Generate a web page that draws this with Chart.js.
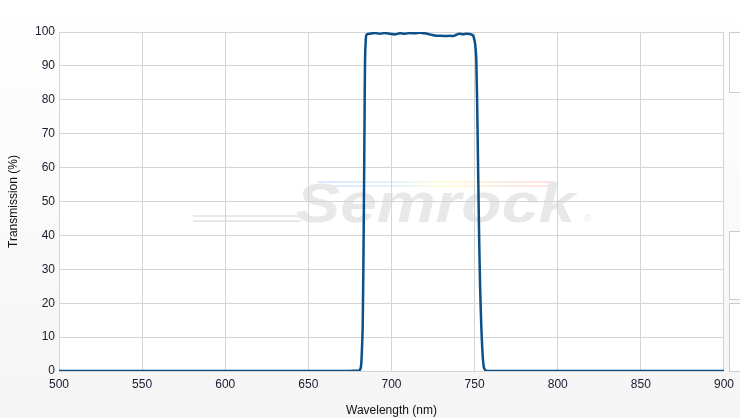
<!DOCTYPE html>
<html>
<head>
<meta charset="utf-8">
<script src="https://cdn.jsdelivr.net/npm/chart.js@4/dist/chart.umd.min.js"></script>
<style>
    html, body { margin: 0; padding: 0; }
    body {
        width: 740px; height: 418px; overflow: hidden; position: relative;
        background: linear-gradient(to bottom, #ffffff 0%, #f5f5f5 100%);
        font-family: "Liberation Sans", Arial, sans-serif;
    }
    #wrap { position: absolute; left: 0; top: 0; width: 740px; height: 418px; }
    .side { position: absolute; left: 729px; width: 14px; border: 1px solid #cccccc; background: #ffffff; }
</style>
</head>
<body>
<div id="wrap"><canvas id="chart"></canvas></div>
<div class="side" style="top:32px;height:59px;"></div>
<div class="side" style="top:231px;height:67px;"></div>
<div class="side" style="top:303px;height:67px;"></div>
<script>
// Filter transmission spectrum
const wavelengths = [500, 550, 600, 650, 670, 678, 680, 681, 681.7, 682.2, 682.7, 683.3, 683.8, 684.1, 684.5, 685,
    687, 690, 693, 696, 699, 702, 705, 708, 711, 714, 717, 720, 723, 726, 729, 732, 735, 737, 739, 741, 743, 745, 747,
    749, 749.6, 750.3, 751, 751.8, 752.6, 753.3, 754, 754.8, 755.5, 756.3, 757.5, 760, 800, 850, 900];
const transmission = [0, 0, 0, 0, 0, 0.05, 0.1, 0.3, 1.5, 6, 13.5, 43, 75, 92, 97.5, 99.2,
    99.5, 99.7, 99.5, 99.7, 99.5, 99.3, 99.6, 99.5, 99.7, 99.6, 99.8, 99.6, 99.3, 99.0, 98.9, 98.8, 98.9, 98.8, 99.2, 99.5, 99.3, 99.5, 99.4,
    99.0, 98.2, 96.5, 92, 70, 43, 25, 13.5, 5, 1.2, 0.3, 0.05, 0, 0, 0, 0];

const xTicks = [500, 550, 600, 650, 700, 750, 800, 850, 900];
const yTicks = [0, 10, 20, 30, 40, 50, 60, 70, 80, 90, 100];

const lineColor = '#0b5089';
const gridColor = '#d4d4d4';
const tickColor = '#1a1a2e';

// white plot area + faint logo watermark behind the grid
const backdrop = {
    id: 'backdrop',
    beforeDraw(chart) {
        const { ctx, chartArea: a } = chart;
        ctx.save();
        ctx.fillStyle = '#ffffff';
        ctx.fillRect(a.left, a.top, a.right - a.left, a.bottom - a.top);

        // rainbow stripes
        const g = ctx.createLinearGradient(310, 0, 555, 0);
        g.addColorStop(0, 'rgba(200,200,255,0.5)');
        g.addColorStop(0.3, 'rgba(190,230,255,0.5)');
        g.addColorStop(0.55, 'rgba(255,250,190,0.5)');
        g.addColorStop(0.8, 'rgba(255,215,190,0.5)');
        g.addColorStop(1, 'rgba(255,200,200,0.5)');
        ctx.fillStyle = g;
        ctx.fillRect(318, 181, 236, 2);
        ctx.fillRect(314, 185, 238, 2);

        // swoosh lines
        ctx.fillStyle = '#e9e9e9';
        ctx.fillRect(193, 215, 110, 2);
        ctx.fillRect(193, 220, 108, 2);

        ctx.fillStyle = '#e8e8e8';
        ctx.translate(296, 222);
        ctx.scale(1.18, 1);
        ctx.font = 'italic bold 56px "Liberation Sans", Arial, sans-serif';
        ctx.textBaseline = 'alphabetic';
        ctx.fillText('Semrock', 0, 0);
        ctx.setTransform(1, 0, 0, 1, 0, 0);
        ctx.font = '10px "Liberation Sans", Arial, sans-serif';
        ctx.fillText('®', 584, 222);
        ctx.restore();
    }
};

new Chart(document.getElementById('chart'), {
    type: 'line',
    data: {
        datasets: [{
            data: wavelengths.map((w, i) => ({ x: w, y: transmission[i] })),
            borderColor: lineColor,
            borderWidth: 2.5,
            pointRadius: 0,
            tension: 0.3,
            fill: false
        }]
    },
    options: {
        responsive: true,
        maintainAspectRatio: false,
        animation: false,
        layout: { padding: { top: 32, right: 15, left: 0, bottom: 0 } },
        plugins: {
            legend: { display: false },
            tooltip: { enabled: false }
        },
        scales: {
            x: {
                type: 'linear',
                min: 500, max: 900,
                afterFit(s) { s.height = 47; },
                afterBuildTicks(s) { s.ticks = xTicks.map(v => ({ value: v })); },
                grid: { color: gridColor, drawTicks: false },
                border: { color: gridColor },
                ticks: { color: tickColor, padding: 6, font: { family: '"Liberation Sans", Arial', size: 12 } },
                title: {
                    display: true, text: 'Wavelength (nm)', color: '#111',
                    font: { family: '"Liberation Sans", Arial', size: 12 },
                    padding: { top: 2, bottom: 0 }
                }
            },
            y: {
                min: 0, max: 100,
                afterFit(s) { s.width = 59; },
                afterBuildTicks(s) { s.ticks = yTicks.map(v => ({ value: v })); },
                grid: { color: gridColor, drawTicks: false },
                border: { color: gridColor },
                ticks: { color: tickColor, padding: 4, font: { family: '"Liberation Sans", Arial', size: 12 } },
                title: {
                    display: true, text: 'Transmission (%)', color: '#111',
                    font: { family: '"Liberation Sans", Arial', size: 12 },
                    padding: { top: 6, bottom: 0 }
                }
            }
        }
    },
    plugins: [backdrop]
});
</script>
</body>
</html>
